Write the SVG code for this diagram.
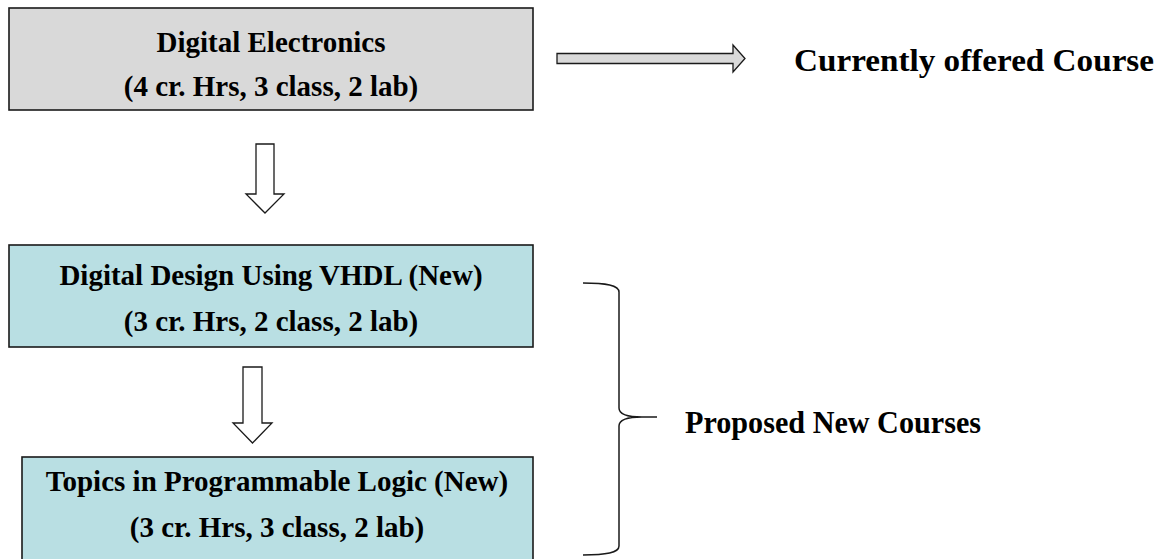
<svg xmlns="http://www.w3.org/2000/svg" width="1160" height="559" viewBox="0 0 1160 559">
<style>
.box{stroke:#1a1a1a;stroke-width:1.6}
.gray{fill:#d9d9d9}
.blue{fill:#b9dfe3}
.t{font-family:"Liberation Serif","Times New Roman",serif;font-weight:bold;font-size:29px;fill:#000;text-anchor:middle}
.lbl{font-family:"Liberation Serif","Times New Roman",serif;font-weight:bold;font-size:31px;fill:#000}
.arr{stroke:#1a1a1a;stroke-width:1.3;stroke-linejoin:miter}
.brace{fill:none;stroke:#1a1a1a;stroke-width:1.5}
</style>
<rect width="1160" height="559" fill="#fff"/>
<g id="node-digital-electronics">
<rect class="box gray" x="9" y="8" width="524" height="102"/>
<text class="t" x="271" y="52">Digital Electronics</text>
<text class="t" x="271" y="96">(4 cr. Hrs, 3 class, 2 lab)</text>
</g>
<g id="node-vhdl">
<rect class="box blue" x="9" y="245" width="524" height="102"/>
<text class="t" x="271" y="285">Digital Design Using VHDL (New)</text>
<text class="t" x="271" y="331">(3 cr. Hrs, 2 class, 2 lab)</text>
</g>
<g id="node-topics">
<rect class="box blue" x="22" y="457" width="511" height="106"/>
<text class="t" x="277" y="491">Topics in Programmable Logic (New)</text>
<text class="t" x="277" y="537">(3 cr. Hrs, 3 class, 2 lab)</text>
</g>
<g id="label-current">
<text class="lbl" x="794" y="71" textLength="360" lengthAdjust="spacingAndGlyphs">Currently offered  Course</text>
</g>
<g id="label-proposed">
<text class="lbl" x="685" y="433" textLength="296" lengthAdjust="spacingAndGlyphs">Proposed New  Courses</text>
</g>
<g id="connectors">
<polygon class="arr gray" points="557,53.5 733,53.5 733,45 745,58.5 733,72 733,63.5 557,63.5"/>
<polygon class="arr" fill="#fff" points="256,144 274,144 274,194 284,194 265,213 246,194 256,194"/>
<polygon class="arr" fill="#fff" points="243,367 262,367 262,423 272,423 252.5,443 233,423 243,423"/>
<path class="brace" d="M583,283 C606,283 619,285 619,292 L619,408 C619,414 626,417 642,417 L657,417 M642,417 C626,417 619,420 619,426 L619,546 C619,553 606,555 583,555"/>
</g>
</svg>
